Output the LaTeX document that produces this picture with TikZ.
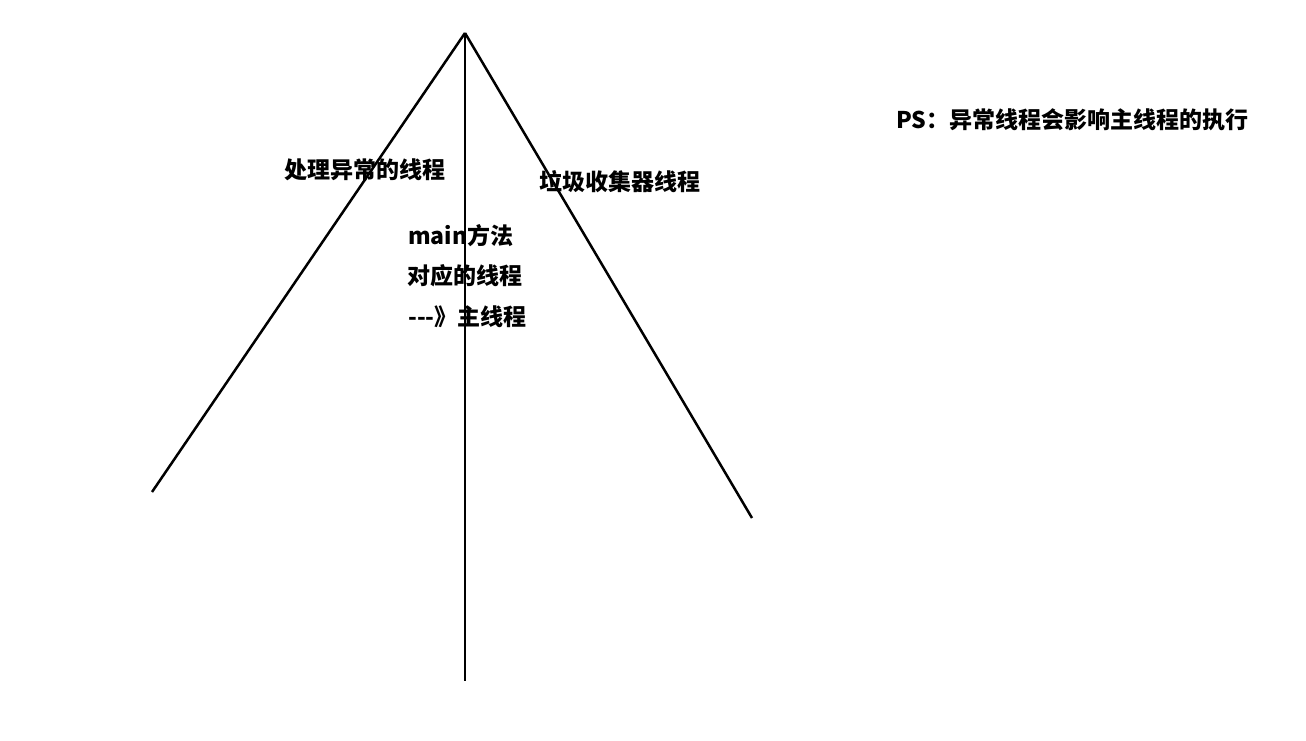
\documentclass[tikz,border=0pt]{standalone}
\usepackage{fontspec}
\newfontfamily\cjk{Noto Sans CJK SC}
\begin{document}
\begin{tikzpicture}[x=1pt,y=-1pt,
  stroke/.style={line width=2.5pt, black},
  lbl/.style={anchor=west, inner sep=0pt, font=\cjk\bfseries\fontsize{23}{26}\selectfont, text=black}]
\useasboundingbox[fill=white] (0,0) rectangle (1306,741);
\coordinate (apex) at (465,33);
\coordinate (lend) at (152,492);
\coordinate (rend) at (752,518);
\coordinate (bend) at (465,681);
\draw[stroke] (apex) -- (lend);
\draw[stroke] (apex) -- (rend);
\draw[stroke] (apex) -- (bend);
\node[lbl] (exc) at (284,170) {处理异常的线程};
\node[lbl] (gc) at (539,182) {垃圾收集器线程};
\node[lbl] (m1) at (408,236) {main方法};
\node[lbl] (m2) at (407,276) {对应的线程};
\node[lbl] (m3) at (408,317) {---》主线程};
\node[lbl] (ps) at (896,120) {PS：异常线程会影响主线程的执行};
\end{tikzpicture}
\end{document}
